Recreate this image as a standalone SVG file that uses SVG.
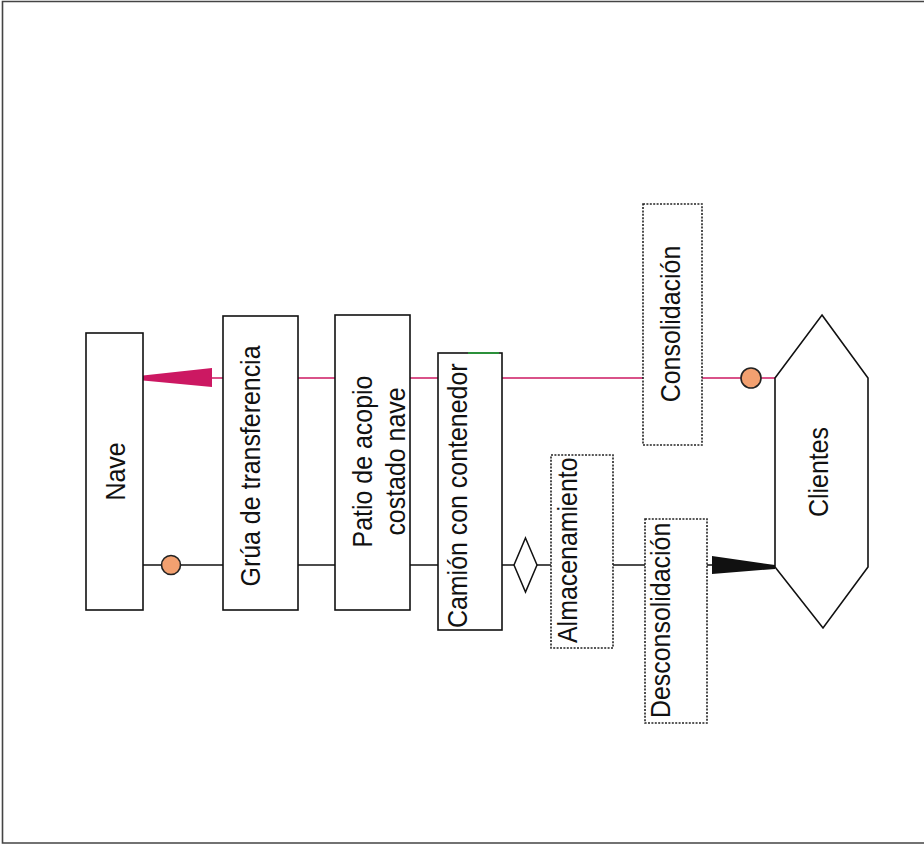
<svg xmlns="http://www.w3.org/2000/svg" width="924" height="847" viewBox="0 0 924 847">
  <style>
    .box { fill: #ffffff; stroke: #111111; stroke-width: 1.6; }
    .dot { fill: #ffffff; stroke: #222222; stroke-width: 1.6; stroke-dasharray: 2 1.4; }
    .lbl { font-family: "Liberation Sans", Arial, sans-serif; font-size: 28px; fill: #111111; }
    .flow { fill: none; stroke: #111111; stroke-width: 1.4; }
    .pink { fill: none; stroke: #cc1862; stroke-width: 1.4; }
    .node-dot { fill: #f2a070; stroke: #222222; stroke-width: 1.6; }
  </style>

  <rect x="0" y="0" width="924" height="847" fill="#ffffff"/>
  <!-- page frame -->
  <path d="M924 1.5 H2.5 V843 H924" fill="none" stroke="#444444" stroke-width="1.6"/>

  <!-- connectors -->
  <g id="connectors">
    <line class="pink" x1="205" y1="378" x2="775" y2="378"/>
    <polygon points="143,375.5 212,368 212,387 143,380.5" fill="#cc1862"/>
    <line class="flow" x1="143" y1="565" x2="714" y2="565"/>
    <polygon points="712,556 775,565 775,569 712,574" fill="#111111"/>
    <circle class="node-dot" cx="171" cy="565" r="9.5"/>
    <circle class="node-dot" cx="751" cy="378" r="10"/>
  </g>

  <g id="nave">
    <rect class="box" x="86" y="333" width="57" height="277"/>
    <text class="lbl" text-anchor="middle" transform="translate(125,471.5) rotate(-90) scale(0.89,1)">Nave</text>
  </g>

  <g id="grua">
    <rect class="box" x="223" y="316" width="75" height="294"/>
    <text class="lbl" text-anchor="middle" transform="translate(260,466) rotate(-90) scale(0.89,1)">Grúa de transferencia</text>
  </g>

  <g id="patio">
    <rect class="box" x="335" y="315" width="75" height="295"/>
    <text class="lbl" text-anchor="middle" transform="translate(372,461.5) rotate(-90) scale(0.89,1)">Patio de acopio</text>
    <text class="lbl" text-anchor="middle" transform="translate(405,461.5) rotate(-90) scale(0.89,1)">costado nave</text>
  </g>

  <g id="camion">
    <rect class="box" x="438" y="353" width="64" height="277"/>
    <line x1="468" y1="353" x2="499" y2="353" stroke="#2a9a3a" stroke-width="1.8"/>
    <text class="lbl" text-anchor="start" transform="translate(467,628) rotate(-90) scale(0.89,1)">Camión con contenedor</text>
  </g>

  <g id="decision">
    <polygon points="525.5,538 537,565 525.5,592 514,565" fill="#ffffff" stroke="#111111" stroke-width="1.5"/>
  </g>

  <g id="almacenamiento">
    <rect class="dot" x="551" y="455" width="62" height="193"/>
    <text class="lbl" text-anchor="start" transform="translate(577,643) rotate(-90) scale(0.89,1)">Almacenamiento</text>
  </g>

  <g id="consolidacion">
    <rect class="dot" x="643" y="204" width="59" height="241"/>
    <text class="lbl" text-anchor="middle" transform="translate(680,324) rotate(-90) scale(0.89,1)">Consolidación</text>
  </g>

  <g id="desconsolidacion">
    <rect class="dot" x="645" y="519" width="62" height="204"/>
    <text class="lbl" text-anchor="start" transform="translate(670,718) rotate(-90) scale(0.89,1)">Desconsolidación</text>
  </g>

  <g id="clientes">
    <polygon points="822,315 868,378 868,567 823,628 775,567 775,378" fill="#ffffff" stroke="#111111" stroke-width="1.6"/>
    <text class="lbl" text-anchor="middle" transform="translate(828,472) rotate(-90) scale(0.89,1)">Clientes</text>
  </g>
</svg>
